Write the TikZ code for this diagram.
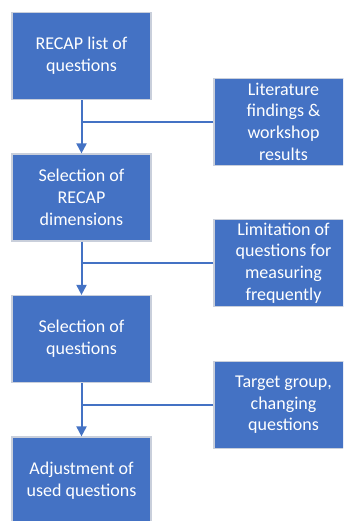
\documentclass[tikz,border=0pt]{standalone}
\usepackage{fontspec}
\setmainfont{Carlito}
\usetikzlibrary{arrows.meta}
\definecolor{boxblue}{HTML}{4472C4}
\definecolor{boxedge}{HTML}{C9CFDB}
\begin{document}
\begin{tikzpicture}[x=1pt,y=-1pt,
  stepbox/.style={rectangle, fill=boxblue, draw=boxedge, line width=1.2pt,
    minimum width=139pt, minimum height=87pt, inner sep=0pt,
    align=center, text=white, font=\fontsize{18}{21.7}\selectfont},
  flow/.style={draw=boxblue, line width=2pt, -{Triangle[width=10pt,length=10pt]}},
  feed/.style={draw=boxblue, line width=2pt}]
\useasboundingbox (0,0) rectangle (343,521);
\clip (0,0) rectangle (343,521);
\fill[white] (0,0) rectangle (343,521);
% main sequence
\node[stepbox] (s1) at (81.5,56) {RECAP list of\\questions};
\node[stepbox] (s2) at (81.5,197.5) {Selection of\\RECAP\\dimensions};
\node[stepbox] (s3) at (81.5,339) {Selection of\\questions};
\node[stepbox] (s4) at (81.5,480.5) {Adjustment of\\used questions};
% side inputs
\node[stepbox] (i1) at (283.5,121.7) {Literature\\findings \&\\workshop\\results};
\node[stepbox] (i2) at (283.5,263) {Limitation of\\questions for\\measuring\\frequently};
\node[stepbox] (i3) at (283.5,404.7) {Target group,\\changing\\questions};
% junctions on the main line
\coordinate (j1) at (s1.south |- i1.west);
\coordinate (j2) at (s2.south |- i2.west);
\coordinate (j3) at (s3.south |- i3.west);
\draw[flow] (s1.south) -- (s2.north);
\draw[flow] (s2.south) -- (s3.north);
\draw[flow] (s3.south) -- (s4.north);
\draw[feed] (i1.west) -- (j1);
\draw[feed] (i2.west) -- (j2);
\draw[feed] (i3.west) -- (j3);
\end{tikzpicture}
\end{document}
